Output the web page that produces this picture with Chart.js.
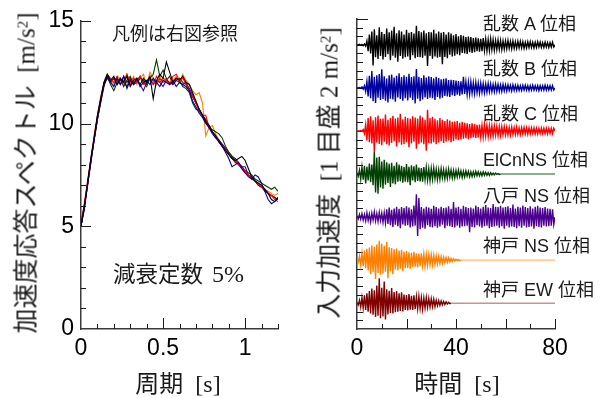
<!DOCTYPE html>
<html><head><meta charset="utf-8">
<script src="https://cdn.jsdelivr.net/npm/chart.js@4.4.1/dist/chart.umd.min.js"></script>
<style>
html,body{margin:0;padding:0;background:#fff;}
#wrap{position:relative;width:601px;height:398px;overflow:hidden;background:#fff;}
canvas{position:absolute;top:0;}
#c1{left:0;} #c2{left:300px;}
.t{position:absolute;white-space:nowrap;color:#1a1a1a;line-height:1;}
.jp{font-family:"Noto Sans CJK JP","Noto Sans CJK SC",sans-serif;}
.tm{font-family:"Liberation Serif","DejaVu Serif",serif;}
.ar{font-family:"Liberation Sans","Noto Sans CJK JP",sans-serif;}
sup{font-size:0.6em;position:relative;top:-0.5em;vertical-align:baseline;line-height:0;}
</style></head>
<body><div id="wrap">
<canvas id="c1" width="300" height="398"></canvas>
<canvas id="c2" width="301" height="398"></canvas>
<div class="t" style="left:25px;top:173px;font-size:25px;transform:translate(-50%,-50%) rotate(-90deg);"><span class="jp">加速度応答スペクトル</span><span class="tm">&nbsp;&nbsp;[m/s<sup>2</sup>]</span></div>
<div class="t" style="left:328px;top:173px;font-size:25px;transform:translate(-50%,-50%) rotate(-90deg);"><span class="jp">入力加速度</span><span class="tm">&nbsp;&nbsp;[1&nbsp;</span><span class="jp">目盛</span><span class="tm">&nbsp;2&nbsp;m/s<sup>2</sup>]</span></div>
<div class="t" style="left:178px;top:383px;font-size:24px;transform:translate(-50%,-50%);"><span class="jp">周期</span><span class="tm">&nbsp;&nbsp;[s]</span></div>
<div class="t" style="left:457px;top:383px;font-size:24px;transform:translate(-50%,-50%);"><span class="jp">時間</span><span class="tm">&nbsp;&nbsp;[s]</span></div>
<div class="t jp" style="left:112px;top:32px;font-size:18px;transform:translateY(-50%);">凡例は右図参照</div>
<div class="t" style="left:113px;top:273px;transform:translateY(-50%);"><span class="jp" style="font-size:22.5px;">減衰定数</span><span class="tm" style="font-size:24px;margin-left:9px;">5%</span></div>
<div id="labels"></div>
</div>
<script>
// ---------- DATA ----------
// Left chart: acceleration response spectra (damping 5%), periods 0..1.2 s step 0.02
const periods = Array.from({length: 61}, (_, i) => Math.round(i * 2) / 100);
const spectrumXTickLabels = [0, 0.5, 1];
const spectrumYTickLabels = [0, 5, 10, 15];

const seriesNames = ['乱数 A 位相', '乱数 B 位相', '乱数 C 位相', 'ElCnNS 位相', '八戸 NS 位相', '神戸 NS 位相', '神戸 EW 位相'];
const seriesColors = ['#000000', '#0000a0', '#ff0000', '#004000', '#4b0090', '#ff8000', '#800000'];
const tailColors = ['#000000', '#0000a0', '#ff0000', '#1f5a1f', '#4b0090', '#ffa850', '#b05858'];

const spectrumA = [5.0, 6.0, 7.1, 8.3, 9.3, 10.4, 11.2, 12.0, 12.4,
  12.1, 12.3, 11.9, 12.2, 12.0, 12.3, 11.8, 12.1, 12.2, 11.9, 12.2, 12.0, 12.3, 11.2, 12.1, 12.4, 12.2, 13.0, 12.5, 12.0, 12.2, 12.1, 12.3, 12.0,
  11.9, 11.5, 11.1, 10.7, 10.4, 10.1, 9.9, 9.6, 9.4, 9.1, 8.9, 8.7, 8.5, 8.3, 8.2, 8.3, 8.4, 8.2, 7.8, 7.4, 7.2, 7.1, 7.0, 6.8, 6.6, 6.3, 6.2, 6.4];
const spectrumB = [5.0, 5.8, 7.0, 8.2, 9.2, 10.3, 11.1, 11.9, 12.3,
  12.0, 11.8, 12.2, 11.9, 12.3, 11.7, 12.1, 11.9, 12.2, 11.8, 12.0, 12.1, 11.9, 12.2, 12.0, 11.8, 12.1, 12.0, 11.9, 12.1, 11.8, 12.0, 11.9, 11.8,
  11.6, 11.1, 10.8, 10.5, 10.3, 10.0, 9.8, 9.5, 9.3, 9.2, 8.9, 8.6, 8.3, 7.9, 8.0, 8.1, 7.8, 7.6, 7.4, 7.3, 7.5, 7.4, 7.1, 6.7, 6.3, 6.1, 6.2, 6.4];
const spectrumC = [5.0, 6.1, 7.2, 8.3, 9.4, 10.4, 11.3, 12.0, 12.4,
  12.2, 12.0, 12.3, 11.9, 12.1, 12.4, 11.9, 12.2, 12.0, 12.3, 11.9, 12.1, 12.2, 11.9, 12.3, 12.0, 12.2, 12.1, 11.9, 12.3, 12.4, 12.1, 12.2, 11.9,
  11.6, 11.3, 11.0, 10.6, 10.4, 10.4, 9.8, 9.6, 9.3, 9.1, 8.9, 8.7, 8.5, 8.3, 8.2, 8.0, 7.8, 7.7, 7.5, 7.4, 7.2, 7.1, 6.9, 6.8, 6.6, 6.5, 6.3, 6.2];
const spectrumElCentro = [5.2, 6.0, 7.1, 8.1, 9.2, 10.2, 11.0, 11.8, 12.3,
  11.9, 11.6, 12.0, 12.2, 11.8, 12.1, 12.3, 11.9, 12.0, 12.2, 12.1, 11.9, 12.2, 12.4, 13.1, 12.3, 12.6, 12.2, 11.9, 12.0, 12.2, 12.1, 11.8, 11.7,
  11.5, 11.0, 10.7, 10.6, 10.4, 10.1, 9.8, 9.7, 9.6, 9.5, 9.3, 8.9, 8.6, 8.4, 8.2, 8.0, 7.9, 7.7, 7.6, 7.5, 7.3, 7.2, 7.1, 7.0, 6.9, 6.8, 6.9, 6.7];
const spectrumHachinohe = [5.0, 5.9, 7.0, 8.1, 9.2, 10.2, 11.1, 11.9, 12.2,
  12.0, 12.2, 11.9, 12.1, 12.0, 11.8, 12.2, 12.0, 12.1, 11.9, 11.6, 12.0, 12.2, 11.9, 12.1, 12.0, 11.8, 12.1, 12.0, 11.9, 12.1, 12.0, 11.9, 12.0,
  11.7, 11.4, 11.0, 10.7, 10.4, 10.2, 9.9, 9.6, 9.4, 9.2, 9.0, 8.8, 8.6, 8.4, 8.3, 8.1, 7.9, 7.9, 7.5, 7.4, 7.2, 7.0, 6.9, 6.8, 6.6, 6.5, 6.4, 6.3];
const spectrumKobeNS = [5.0, 6.0, 7.1, 8.2, 9.3, 10.3, 11.2, 12.0, 12.4,
  12.1, 11.9, 12.3, 12.2, 11.8, 12.4, 12.0, 12.3, 11.9, 12.2, 12.4, 11.9, 12.5, 12.2, 11.9, 12.3, 12.0, 12.2, 11.9, 12.1, 12.3, 12.0, 12.4, 12.1,
  11.9, 11.6, 11.4, 11.5, 11.0, 9.4, 9.8, 9.9, 9.5, 9.2, 9.0, 8.8, 8.6, 8.4, 8.2, 8.0, 7.9, 7.7, 7.5, 7.4, 7.2, 7.1, 6.9, 6.8, 6.7, 6.6, 6.5, 6.6];
const spectrumKobeEW = [5.0, 5.9, 7.0, 8.2, 9.2, 10.2, 11.1, 11.9, 12.3,
  12.0, 12.2, 12.1, 11.9, 12.3, 12.0, 12.2, 11.9, 12.1, 12.3, 12.0, 11.8, 12.2, 12.1, 11.9, 12.2, 12.0, 12.1, 12.3, 11.9, 12.1, 12.2, 12.0, 11.9,
  11.6, 11.3, 11.0, 10.7, 10.4, 10.1, 9.9, 9.6, 9.4, 9.1, 8.9, 8.7, 8.5, 8.3, 8.1, 8.0, 7.8, 7.6, 7.5, 7.3, 7.2, 7.0, 6.9, 6.7, 6.6, 6.5, 6.4, 6.3];

// Right chart: input accelerations [m/s2], one value every 0.5 s
const timeStep = 0.5;
const timeTickLabels = [0, 40, 80];
const waveOffsets = [66, 56, 46, 36, 26, 16, 6];   // vertical offset of each trace (1 tick = 2 m/s2)
const waveA = [
  0,0,0.1,-0.1,0.1,-0.2,0.2,-0.3,0.9,-1.5,2.4,-2.0,3.1,-4.8,3.6,-2.9,2.2,-3.3,4.1,-2.6,
  3.0,-3.4,2.5,-2.8,3.8,-2.2,2.9,-3.6,3.3,-2.5,4.2,-3.0,2.7,-3.9,3.4,-2.6,3.1,-3.2,2.4,-2.9,
  3.5,-2.7,2.8,-3.5,3.0,-2.4,2.6,-3.1,4.4,-2.8,3.2,-2.9,2.9,-3.0,3.3,-2.5,2.7,-4.9,3.0,-2.6,
  2.9,-3.2,3.5,-2.7,2.6,-3.0,3.1,-2.8,2.8,-4.5,3.0,-2.8,2.4,-3.1,2.9,-2.3,2.6,-2.7,2.2,-2.5,
  2.5,-2.2,2.0,-2.4,2.3,-1.9,2.1,-2.0,1.8,-2.1,1.9,-1.7,1.8,-1.9,1.6,-1.7,1.7,-1.5,1.5,-1.6,
  1.4,-1.5,1.6,-1.3,1.3,-1.4,1.2,-1.3,1.4,-1.1,1.2,-1.2,1.0,-1.1,1.1,-1.0,1.0,-1.1,0.9,-1.0,
  0.9,-0.9,1.0,-0.8,0.8,-0.9,0.9,-0.8,0.7,-0.8,0.8,-0.7,0.8,-0.7,0.7,-0.8,0.6,-0.7,0.7,-0.6,
  0.7,-0.6,0.6,-0.7,0.6,-0.6,0.7,-0.5,0.6,-0.6,0.5,-0.6,0.6,-0.5,0.5,-0.6,0.5,-0.5,0.6,-0.5,
  0];
const waveB = [
  0,0,0.1,-0.1,0.2,-0.3,0.5,-0.8,1.5,-2.0,2.8,-2.4,3.9,-3.1,2.6,-3.5,2.9,-2.3,3.2,-2.8,
  4.3,-2.6,2.7,-3.0,2.2,-3.4,2.9,-2.5,3.1,-2.7,2.4,-3.2,2.8,-2.2,3.4,-2.6,2.5,-3.0,2.9,-2.4,
  2.6,-2.9,3.3,-2.3,2.5,-2.8,2.7,-3.6,4.4,-2.5,2.6,-3.1,2.3,-2.7,2.9,-2.2,2.4,-2.6,2.7,-2.3,
  2.5,-2.4,2.2,-2.8,2.6,-2.1,2.3,-2.5,2.0,-2.3,2.1,-1.9,2.2,-2.0,1.8,-2.1,1.9,-1.7,1.8,-1.9,
  1.7,-1.6,1.6,-1.8,1.5,-1.5,2.6,-1.4,1.4,-1.5,1.3,-1.4,1.4,-1.2,1.2,-1.3,1.3,-1.1,1.1,-1.2,
  1.1,-1.0,1.0,-1.1,0.9,-1.0,1.0,-0.9,0.9,-0.9,0.8,-0.9,0.9,-0.8,0.8,-0.8,0.7,-0.8,0.8,-0.7,
  0.7,-0.7,0.7,-0.6,0.6,-0.7,0.7,-0.6,0.6,-0.6,0.6,-0.6,0.5,-0.6,0.6,-0.5,0.6,-0.5,0.5,-0.6,
  0.5,-0.5,0.6,-0.5,0.5,-0.5,0.5,-0.6,0.5,-0.5,0.5,-0.5,0.6,-0.5,0.5,-0.5,0.5,-0.5,0.5,-0.5,
  0];
const waveC = [
  0,0,0,0.1,-0.1,0.3,-0.6,1.4,-2.2,3.0,-2.6,3.4,-2.9,2.5,-4.8,3.2,-2.7,3.6,-3.0,2.8,
  -3.3,2.9,-2.5,3.8,-3.1,2.6,-3.4,3.0,-2.8,3.5,-2.4,2.9,-3.6,3.1,-2.7,4.0,-3.2,2.7,-3.0,3.3,
  -2.6,3.0,-3.8,2.8,-2.9,3.4,-2.5,3.1,-4.1,2.9,-3.0,3.6,-2.7,3.2,-3.1,2.6,-4.6,4.9,-2.8,3.0,
  -2.9,3.3,-2.6,2.8,-3.1,2.5,-2.7,3.0,-2.4,2.6,-2.8,2.3,-2.5,2.7,-2.2,2.4,-2.6,2.1,-2.3,2.2,
  -2.0,2.3,-2.1,1.9,-2.0,2.1,-1.8,1.9,-1.7,1.8,-1.9,1.6,-1.7,1.8,-1.5,1.6,-1.6,1.4,-1.5,1.5,
  -1.4,1.3,-1.4,1.5,-1.2,1.3,-1.3,1.2,-1.1,1.2,-1.2,1.1,-1.0,1.1,-1.1,1.0,-1.0,1.0,-0.9,1.0,
  -0.9,0.9,-0.9,0.8,-0.9,0.9,-0.8,0.8,-0.8,0.9,-0.8,0.7,-0.8,0.8,-0.7,0.8,-0.7,0.7,-0.8,0.7,
  -0.7,0.7,-0.6,0.7,-0.7,0.6,-0.7,0.6,-0.6,0.7,-0.6,0.6,-0.6,0.6,-0.7,0.6,-0.6,0.6,-0.6,0.6,
  0];
const waveElCentro = [
  0.3,-0.5,0.9,-1.2,1.6,-1.3,1.9,-2.2,1.7,-1.5,2.4,-1.9,2.2,-2.6,5.2,-4.3,3.8,-4.6,4.0,-3.1,
  2.9,-3.4,3.3,-2.5,2.7,-2.1,2.4,-3.0,2.6,-2.2,1.9,-2.4,2.7,-1.8,2.2,-1.7,1.9,-2.0,1.6,-1.8,
  2.3,-1.9,1.7,-2.6,2.0,-1.5,1.8,-1.9,2.2,-1.6,1.5,-1.7,1.4,-1.8,1.6,-1.3,1.5,-1.4,1.2,-1.5,
  1.3,-1.2,1.4,-1.1,1.1,-1.3,1.0,-1.2,1.2,-0.9,1.0,-1.1,0.9,-1.0,1.1,-0.8,0.9,-0.9,0.8,-0.9,
  0.8,-0.7,0.9,-0.6,0.7,-0.8,0.6,-0.7,0.7,-0.5,0.6,-0.6,0.5,-0.6,0.5,-0.5,0.6,-0.4,0.5,-0.4,
  0.4,-0.4,0.5,-0.3,0.4,-0.3,0.3,-0.3,0.3,-0.2,0.2,-0.2,0.2,-0.1,0.1,-0.1,0];
const waveHachinohe = [
  0.3,-0.4,0.6,-0.5,0.8,-0.7,0.6,-0.9,1.0,-0.8,0.7,-1.1,0.9,-0.7,1.2,-0.9,0.8,-1.0,1.1,-0.8,
  0.9,-1.2,1.0,-1.4,1.8,-1.6,2.2,-1.9,1.7,-2.3,2.0,-1.8,2.4,-2.1,1.9,-2.6,2.3,-1.7,2.1,-2.0,
  2.5,-1.9,2.2,-2.4,1.8,-2.2,2.7,-2.0,5.3,-4.4,4.4,-2.8,2.3,-2.5,2.0,-2.7,2.4,-1.9,2.2,-2.3,
  1.9,-2.4,2.6,-2.1,2.3,-2.5,2.0,-2.2,2.4,-1.8,2.1,-2.6,2.2,-2.0,2.5,-2.1,1.9,-2.3,3.5,-2.4,
  2.2,-2.0,2.4,-2.5,1.9,-2.2,2.6,-2.1,2.3,-2.0,2.1,-3.5,2.2,-2.3,2.0,-2.4,2.7,-1.9,2.3,-2.2,
  2.0,-2.5,2.4,-2.1,2.8,-2.0,2.2,-2.6,2.1,-2.3,3.0,-2.2,2.4,-2.0,2.3,-2.5,2.6,-2.1,2.2,-2.7,
  2.3,-2.0,2.5,-2.4,2.1,-2.2,2.9,-2.3,2.0,-2.6,2.4,-2.1,2.2,-2.5,2.7,-2.0,2.3,-2.4,2.1,-2.3,
  2.5,-2.2,2.0,-2.7,2.4,-2.1,2.6,-2.3,2.2,-2.4,2.1,-2.0,2.3,-2.2,2.0,-2.1,1.9,-2.0,1.8,-1.7,
  0];
const waveKobeNS = [
  0.3,-0.5,0.9,-1.1,1.6,-1.4,2.2,-1.9,2.6,-2.4,2.9,-3.3,3.4,-2.8,3.1,-4.4,3.6,-3.0,4.5,-3.4,
  3.8,-3.1,3.3,-2.7,4.2,-4.2,3.0,-2.6,2.8,-3.3,2.5,-2.2,2.7,-2.4,2.2,-2.0,2.4,-2.6,2.0,-1.8,
  2.1,-1.9,1.8,-2.0,1.7,-1.6,1.9,-1.5,1.6,-1.7,1.5,-1.4,1.6,-1.3,1.4,-1.5,1.3,-1.2,1.3,-1.1,
  1.2,-1.1,1.1,-1.0,1.0,-0.9,0.9,-0.8,0.8,-0.7,0.7,-0.6,0.6,-0.5,0.5,-0.4,0.4,-0.3,0.3,-0.2,
  0.2,-0.1,0.1,-0.1,0];
const waveKobeEW = [
  0.2,-0.4,0.7,-0.9,1.3,-1.1,1.8,-1.6,2.3,-2.0,2.8,-2.4,3.4,-2.7,3.0,-3.2,4.1,-2.9,5.8,-3.5,
  3.6,-3.1,5.0,-3.8,3.2,-2.6,2.9,-2.3,3.5,-2.4,2.6,-2.1,2.8,-2.0,2.3,-1.8,2.5,-1.9,2.0,-1.6,
  1.9,-1.7,2.1,-1.5,1.7,-1.6,1.8,-1.4,1.5,-1.3,1.6,-1.2,1.3,-1.4,1.2,-1.1,1.3,-1.0,1.1,-0.9,
  1.0,-0.8,0.9,-0.8,0.7,-0.6,0.6,-0.5,0.5,-0.4,0.4,-0.3,0.3,-0.2,0.2,-0.1,0];
const recordEnd = 80;

// ---------- CHARTS ----------
const spectra = [spectrumA, spectrumB, spectrumC, spectrumElCentro, spectrumHachinohe, spectrumKobeNS, spectrumKobeEW];
const waves = [waveA, waveB, waveC, waveElCentro, waveHachinohe, waveKobeNS, waveKobeEW];
const AXIS = '#3a3a3a';
const TICKC = '#1a1a1a';

const inTicks = {
  id: 'inTicks',
  beforeDatasetsDraw(chart, args, o) {
    const {ctx, chartArea} = chart;
    const xs = chart.scales.x, ys = chart.scales.y;
    ctx.save();
    ctx.strokeStyle = TICKC;
    ctx.lineWidth = 1;
    ctx.beginPath();
    (o.x || []).forEach(([v, len]) => {
      const px = Math.round(xs.getPixelForValue(v)) + 0.5;
      ctx.moveTo(px, chartArea.bottom);
      ctx.lineTo(px, chartArea.bottom - len);
    });
    (o.y || []).forEach(([v, len]) => {
      const py = Math.round(ys.getPixelForValue(v)) + 0.5;
      ctx.moveTo(chartArea.left, py);
      ctx.lineTo(chartArea.left + len, py);
    });
    ctx.stroke();
    ctx.restore();
  }
};

function tickList(from, to, step, len, majorEvery, majorLen) {
  const out = [];
  for (let v = from; v <= to + 1e-9; v += step) {
    const r = Math.round(v * 1000) / 1000;
    const isMajor = majorEvery && Math.abs(r / majorEvery - Math.round(r / majorEvery)) < 1e-6;
    out.push([r, isMajor ? majorLen : len]);
  }
  return out;
}

const tickFont = {family: 'Liberation Sans, Arial, sans-serif', size: 23};

new Chart(document.getElementById('c1'), {
  type: 'line',
  data: {
    datasets: spectra.map((s, i) => ({
      label: seriesNames[i],
      data: s.map((v, j) => ({x: periods[j], y: v})),
      borderColor: seriesColors[i],
      borderWidth: 1.1,
      pointRadius: 0,
      tension: 0,
      fill: false
    }))
  },
  options: {
    responsive: false, animation: false,
    layout: {padding: {top: 19, right: 22, left: 0, bottom: 0}},
    plugins: {
      legend: {display: false}, tooltip: {enabled: false},
      inTicks: {x: tickList(0.1, 1.2, 0.1, 5, 0.5, 11), y: tickList(1, 15, 1, 5, 5, 10)}
    },
    scales: {
      x: {
        type: 'linear', min: 0, max: 1.2,
        grid: {display: false, drawTicks: false},
        border: {display: true, color: AXIS, width: 1.5},
        ticks: {font: tickFont, color: '#000', padding: 6, maxRotation: 0, autoSkip: false, callback: v => String(v)},
        afterBuildTicks: s => { s.ticks = spectrumXTickLabels.map(v => ({value: v})); },
        afterFit: s => { s.height = 69; }
      },
      y: {
        min: 0, max: 15,
        grid: {display: false, drawTicks: false},
        border: {display: true, color: AXIS, width: 1.5},
        ticks: {font: tickFont, color: '#000', padding: 7, autoSkip: false, callback: v => String(v)},
        afterBuildTicks: s => { s.ticks = spectrumYTickLabels.map(v => ({value: v})); },
        afterFit: s => { s.width = 81; }
      }
    }
  },
  plugins: [inTicks]
});

new Chart(document.getElementById('c2'), {
  type: 'line',
  data: {
    datasets: waves.map((w, i) => {
      const pts = w.map((v, j) => ({x: j * timeStep, y: waveOffsets[i] + v}));
      const lastRecorded = pts[pts.length - 1].x;
      if (lastRecorded < recordEnd) pts.push({x: recordEnd, y: waveOffsets[i]});
      return {
        label: seriesNames[i], data: pts,
        borderColor: seriesColors[i], borderWidth: 1.4,
        segment: {
          borderColor: c => (c.p0.parsed.x >= lastRecorded && lastRecorded < recordEnd) ? tailColors[i] : undefined,
          borderWidth: c => (c.p0.parsed.x >= lastRecorded && lastRecorded < recordEnd) ? 1 : undefined
        },
        pointRadius: 0, tension: 0, fill: false
      };
    })
  },
  options: {
    responsive: false, animation: false,
    layout: {padding: {top: 19, right: 46, left: 0, bottom: 0}},
    plugins: {
      legend: {display: false}, tooltip: {enabled: false},
      inTicks: {x: tickList(10, 80, 10, 5, 20, 10), y: tickList(2, 72, 2, 6, 72, 11)}
    },
    scales: {
      x: {
        type: 'linear', min: 0, max: 80,
        grid: {display: false, drawTicks: false},
        border: {display: true, color: AXIS, width: 1.5},
        ticks: {font: tickFont, color: '#000', padding: 6, maxRotation: 0, autoSkip: false, callback: v => String(v)},
        afterBuildTicks: s => { s.ticks = timeTickLabels.map(v => ({value: v})); },
        afterFit: s => { s.height = 69; }
      },
      y: {
        min: 0, max: 72,
        grid: {display: false, drawTicks: false},
        border: {display: true, color: AXIS, width: 1.5},
        ticks: {display: false},
        afterFit: s => { s.width = 57; }
      }
    }
  },
  plugins: [inTicks]
});

// series labels on the right chart
const labelCenters = [24, 69, 114, 160, 196, 246, 290];
const lab = document.getElementById('labels');
seriesNames.forEach((n, i) => {
  const d = document.createElement('div');
  d.className = 't ar';
  d.style.cssText = 'left:483px;top:' + labelCenters[i] + 'px;font-size:18px;transform:translateY(-50%);';
  d.textContent = n;
  lab.appendChild(d);
});
</script>
</body></html>
